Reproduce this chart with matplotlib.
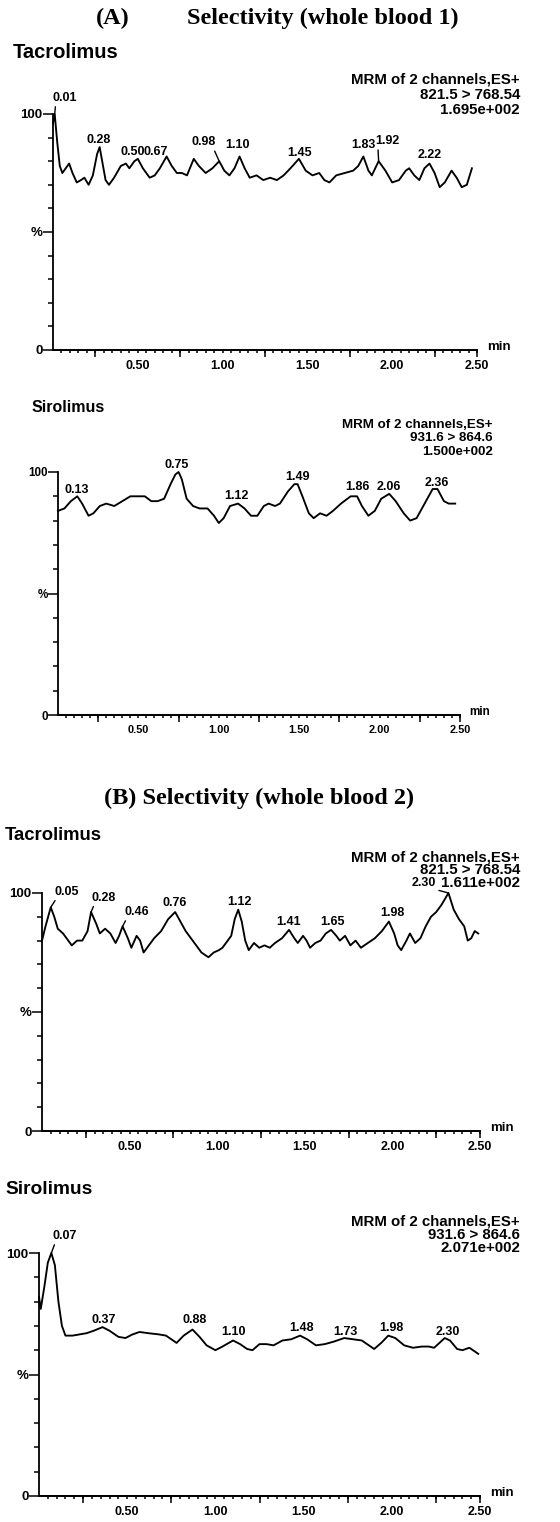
import matplotlib
matplotlib.use('Agg')
import matplotlib.pyplot as plt

W, H = 560, 1522
SANS = ['Liberation Sans', 'DejaVu Sans']
SERIF = ['Liberation Serif', 'DejaVu Serif']

# ---------------- data ----------------
# (A) Tacrolimus
a_tac_t = [0.00, 0.01, 0.025, 0.04, 0.055, 0.075, 0.095, 0.115, 0.14, 0.165, 0.185, 0.21, 0.235, 0.26, 0.275,
           0.29, 0.31, 0.33, 0.36, 0.40, 0.43, 0.45, 0.48, 0.50, 0.53, 0.57, 0.60, 0.63, 0.67, 0.70,
           0.73, 0.76, 0.79, 0.83, 0.86, 0.90, 0.94, 0.98, 1.01, 1.04, 1.07, 1.10, 1.13, 1.16, 1.20,
           1.24, 1.28, 1.32, 1.36, 1.40, 1.45, 1.49, 1.53, 1.57, 1.60, 1.63, 1.67, 1.72, 1.77, 1.80,
           1.83, 1.86, 1.88, 1.92, 1.96, 2.00, 2.04, 2.08, 2.10, 2.13, 2.16, 2.19, 2.22, 2.25, 2.28,
           2.31, 2.35, 2.38, 2.41, 2.44, 2.47]
a_tac_i = [96, 100, 88, 78, 75, 77, 79, 75, 71, 72, 73, 70, 74, 83, 86,
           80, 72, 70, 73, 78, 79, 77, 80, 81, 77, 73, 74, 77, 82, 78,
           75, 75, 74, 81, 78, 75, 77, 80, 76, 74, 77, 82, 77, 73, 74,
           72, 73, 72, 74, 77, 81, 76, 74, 75, 72, 71, 74, 75, 76, 78,
           82, 76, 74, 80, 76, 71, 72, 76, 77, 74, 72, 77, 79, 75, 69,
           71, 76, 73, 69, 70, 77]
a_tac_labels = ['0.01', '0.28', '0.50', '0.67', '0.98', '1.10', '1.45', '1.83', '1.92', '2.22']
a_tac_label_t = [0.071, 0.27, 0.47, 0.607, 0.89, 1.09, 1.454, 1.83, 1.97, 2.22]
a_tac_label_y = [106.8, 89, 84, 84, 88, 87, 83.4, 87, 88.5, 82.6]
a_tac_leader = [True, False, False, False, True, False, False, False, True, False]
a_tac_info = ['MRM of 2 channels,ES+', '821.5 > 768.54', '1.695e+002']

# (A) Sirolimus
a_sir_t = [0.0, 0.04, 0.08, 0.12, 0.15, 0.19, 0.22, 0.26, 0.30, 0.35, 0.40, 0.45, 0.50, 0.54, 0.58,
           0.62, 0.66, 0.70, 0.73, 0.75, 0.77, 0.80, 0.84, 0.88, 0.93, 0.97, 1.00, 1.03, 1.07, 1.12,
           1.16, 1.20, 1.24, 1.28, 1.31, 1.35, 1.38, 1.43, 1.47, 1.49, 1.52, 1.56, 1.59, 1.63, 1.67,
           1.71, 1.76, 1.82, 1.86, 1.89, 1.93, 1.97, 2.01, 2.06, 2.10, 2.15, 2.19, 2.23, 2.28, 2.33,
           2.36, 2.40, 2.43, 2.47]
a_sir_i = [84, 85, 88, 90, 87, 82, 83, 86, 87, 86, 88, 90, 90, 90, 88,
           88, 89, 95, 99, 100, 97, 89, 86, 85, 85, 82, 79, 81, 86, 87,
           85, 82, 82, 86, 87, 86, 87, 92, 95, 95, 90, 83, 81, 83, 82,
           84, 87, 90, 90, 86, 82, 84, 89, 91, 88, 83, 80, 81, 87, 93,
           93, 88, 87, 87]
a_sir_labels = ['0.13', '0.75', '1.12', '1.49', '1.86', '2.06', '2.36']
a_sir_label_t = [0.116, 0.738, 1.11, 1.49, 1.86, 2.06, 2.355]
a_sir_label_y = [92.6, 103, 90, 98, 94, 94, 95.5]
a_sir_leader = [False] * 7
a_sir_info = ['MRM of 2 channels,ES+', '931.6 > 864.6', '1.500e+002']

# (B) Tacrolimus
b_tac_t = [0.0, 0.02, 0.05, 0.07, 0.09, 0.12, 0.15, 0.17, 0.20, 0.23, 0.26, 0.28, 0.31, 0.33, 0.36,
           0.39, 0.42, 0.44, 0.46, 0.49, 0.51, 0.54, 0.56, 0.58, 0.61, 0.64, 0.68, 0.72, 0.76, 0.79,
           0.82, 0.85, 0.88, 0.91, 0.95, 0.98, 1.01, 1.03, 1.05, 1.08, 1.10, 1.12, 1.14, 1.16, 1.18,
           1.21, 1.24, 1.27, 1.30, 1.33, 1.37, 1.41, 1.44, 1.46, 1.49, 1.51, 1.53, 1.56, 1.59, 1.62,
           1.65, 1.68, 1.70, 1.73, 1.76, 1.79, 1.82, 1.86, 1.90, 1.94, 1.98, 2.01, 2.03, 2.05, 2.08,
           2.10, 2.13, 2.16, 2.19, 2.22, 2.25, 2.28, 2.32, 2.35, 2.38, 2.41, 2.43, 2.45, 2.47, 2.49]
b_tac_i = [80, 86, 94, 90, 85, 83, 80, 78, 80, 80, 84, 92, 87, 83, 85,
           83, 79, 82, 86, 81, 77, 82, 80, 75, 78, 81, 84, 89, 92, 88,
           84, 81, 78, 75, 73, 75, 76, 77, 79, 82, 89, 93, 88, 80, 76,
           79, 77, 78, 77, 79, 81, 84.5, 81, 79, 82, 80, 77, 79, 80, 83,
           84.5, 82, 80, 82, 78, 80, 77, 79, 81, 84, 88, 83, 78, 76, 80,
           83, 79, 81, 86, 90, 92, 95, 100, 93, 89, 86, 80, 81, 84, 83]
b_tac_labels = ['0.05', '0.28', '0.46', '0.76', '1.12', '1.41', '1.65', '1.98', '2.30']
b_tac_label_t = [0.14, 0.354, 0.54, 0.76, 1.125, 1.41, 1.66, 2.0, 2.18]
b_tac_label_y = [100.5, 98, 92, 96, 96.3, 88, 88, 91.5, 104]
b_tac_leader = [True, True, True, False, False, False, False, False, True]
b_tac_info = ['MRM of 2 channels,ES+', '821.5 > 768.54', '1.611e+002']

# (B) Sirolimus
b_sir_t = [0.0, 0.01, 0.03, 0.05, 0.07, 0.09, 0.11, 0.13, 0.15, 0.19, 0.23, 0.27, 0.31, 0.36, 0.40,
           0.45, 0.49, 0.53, 0.57, 0.62, 0.68, 0.72, 0.75, 0.78, 0.82, 0.87, 0.91, 0.95, 1.00, 1.04,
           1.10, 1.14, 1.18, 1.21, 1.25, 1.29, 1.33, 1.38, 1.43, 1.48, 1.52, 1.57, 1.62, 1.67, 1.73,
           1.78, 1.83, 1.87, 1.90, 1.94, 1.98, 2.02, 2.07, 2.12, 2.17, 2.21, 2.24, 2.27, 2.30, 2.33,
           2.37, 2.40, 2.44, 2.47, 2.49]
b_sir_i = [82, 77, 86, 96, 100, 95, 80, 70, 66, 66, 66.5, 67, 68, 69.5, 68,
           65.5, 65, 66.5, 67.5, 67, 66.5, 66, 64.5, 63, 66, 68.5, 65.5, 62, 60, 61.5,
           64, 62.5, 60.5, 60, 62.5, 62.5, 62, 64, 64.5, 66, 64.5, 62, 62.5, 63.5, 65,
           64.5, 64, 62, 60.5, 63, 66, 65, 62, 61, 61.5, 61.5, 61, 63, 65, 64,
           60.5, 60, 61, 59.5, 58.5]
b_sir_labels = ['0.07', '0.37', '0.88', '1.10', '1.48', '1.73', '1.98', '2.30']
b_sir_label_t = [0.147, 0.365, 0.88, 1.105, 1.49, 1.735, 2.0, 2.32]
b_sir_label_y = [107, 72.5, 72.3, 67.5, 69, 67.5, 69, 67.5]
b_sir_leader = [True] + [False] * 7
b_sir_info = ['MRM of 2 channels,ES+', '931.6 > 864.6', '2.071e+002']

x_tick_vals = [0.5, 1.0, 1.5, 2.0, 2.5]
x_tick_text = ['0.50', '1.00', '1.50', '2.00', '2.50']
x_long_ticks = [0.25, 0.75, 1.25, 1.75, 2.25, 2.5]
x_minor_ticks = [round(0.05 * k, 2) for k in range(1, 50)]
y_tick_vals = [0, 50, 100]
y_tick_text = ['0', '%', '100']
y_minor_ticks = [10, 20, 30, 40, 60, 70, 80, 90]

fig = plt.figure(figsize=(W / 100, H / 100), dpi=100)
fig.patch.set_facecolor('white')


def fx(x):
    return x / W


def fy(y):
    return 1 - y / H


def panel(box, t, inten, name, name_xy, name_size, info, info_right, info_y, info_size,
          labels, lab_t, lab_y, leaders, s=1.0, lab_size=9.0):
    x0, x1, y100, y0 = box
    ax = fig.add_axes([fx(x0), fy(y0), (x1 - x0) / W, (y0 - y100) / H])
    ax.plot(t, inten, color='black', lw=1.35, clip_on=False, solid_joinstyle='round')
    ax.set_xlim(0, 2.5)
    ax.set_ylim(0, 100)
    for sp in ['top', 'right']:
        ax.spines[sp].set_visible(False)
    for sp in ['left', 'bottom']:
        ax.spines[sp].set_linewidth(1.3)
    ax.set_yticks(y_tick_vals)
    ax.set_yticklabels(y_tick_text, fontsize=9.5 * s, fontweight='bold', family=SANS)
    ax.set_yticks(y_minor_ticks, minor=True)
    ax.tick_params(axis='y', which='major', length=7, width=1.1, pad=0.5)
    ax.tick_params(axis='y', which='minor', length=3.5, width=1.1)
    ax.set_xticks(x_tick_vals)
    ax.set_xticklabels(x_tick_text, fontsize=9 * s, fontweight='bold', family=SANS)
    ax.set_xticks([v for v in x_minor_ticks if v not in x_tick_vals], minor=True)
    ax.tick_params(axis='x', which='major', length=2.5, width=1.1, pad=5)
    ax.tick_params(axis='x', which='minor', length=2.5, width=1.1)
    sec = ax.secondary_xaxis('bottom')
    sec.set_xticks(x_long_ticks)
    sec.set_xticklabels([])
    sec.tick_params(length=5, width=1.1)
    sec.spines['bottom'].set_linewidth(1.3)
    ax.annotate('min', xy=(1, 0), xycoords='axes fraction', xytext=(7, 2),
                textcoords='offset points', ha='left', va='center',
                fontsize=9.5 * s, fontweight='bold', family=SANS)
    for txt, lt, ly, ld in zip(labels, lab_t, lab_y, leaders):
        if ld:
            pt = float(txt)
            near = [(abs(tt - pt), v, tt) for tt, v in zip(t, inten) if abs(tt - pt) <= 0.035]
            _, py, ptt = max(near, key=lambda r: r[1])
            rx = 0.12 if lt > ptt else 0.88
            ax.annotate(txt, xy=(ptt, py), xytext=(lt, ly), ha='center', va='center',
                        fontsize=lab_size, fontweight='bold', family=SANS,
                        annotation_clip=False,
                        arrowprops=dict(arrowstyle='-', lw=1.0, color='black',
                                        relpos=(rx, 0.05), shrinkA=0, shrinkB=0))
        else:
            ax.text(lt, ly, txt, ha='center', va='center', fontsize=lab_size,
                    fontweight='bold', family=SANS, clip_on=False)
    fig.text(fx(name_xy[0]), fy(name_xy[1]), name, ha='left', va='center',
             fontsize=name_size, fontweight='bold', family=SANS)
    for line, yy in zip(info, info_y):
        fig.text(fx(info_right), fy(yy), line, ha='right', va='center',
                 fontsize=info_size, fontweight='bold', family=SANS)
    return ax


# titles
fig.text(fx(113), fy(18), '(A)', ha='center', va='center', fontsize=17.5,
         fontweight='bold', family=SERIF)
fig.text(fx(187), fy(18), 'Selectivity (whole blood 1)', ha='left', va='center',
         fontsize=17.5, fontweight='bold', family=SERIF)
fig.text(fx(259), fy(798), '(B) Selectivity (whole blood 2)', ha='center', va='center',
         fontsize=17.5, fontweight='bold', family=SERIF)

panel((53, 477, 114, 350), a_tac_t, a_tac_i, 'Tacrolimus', (13, 52), 14.5,
      a_tac_info, 520, (80, 95, 110), 10.8,
      a_tac_labels, a_tac_label_t, a_tac_label_y, a_tac_leader)
panel((58, 460, 472, 715), a_sir_t, a_sir_i, 'Sirolimus', (32, 407), 11.5,
      a_sir_info, 493, (425, 438, 452), 9.6,
      a_sir_labels, a_sir_label_t, a_sir_label_y, a_sir_leader, s=0.88, lab_size=9.0)
panel((42, 480, 893, 1131), b_tac_t, b_tac_i, 'Tacrolimus', (5, 835), 13.3,
      b_tac_info, 520, (857, 870, 883), 10.8,
      b_tac_labels, b_tac_label_t, b_tac_label_y, b_tac_leader)
panel((39, 480, 1253, 1496), b_sir_t, b_sir_i, 'Sirolimus', (5, 1190), 13.8,
      b_sir_info, 520, (1222, 1235, 1248), 10.8,
      b_sir_labels, b_sir_label_t, b_sir_label_y, b_sir_leader)

fig.savefig('out.png', dpi=100, facecolor='white')
